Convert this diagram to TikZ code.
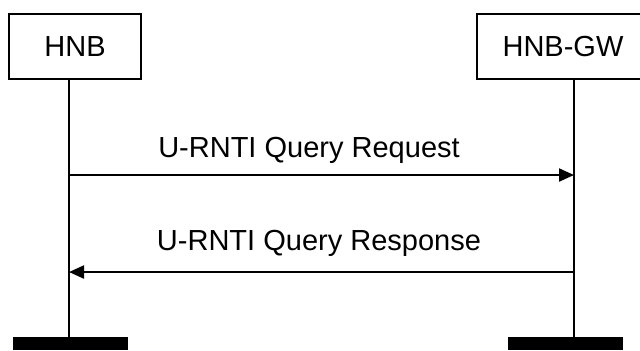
\documentclass[tikz,border=0pt]{standalone}
\usepackage{fontspec}
\setmainfont{Liberation Sans}
\usetikzlibrary{arrows.meta}
\begin{document}
\begin{tikzpicture}[
    x=0.01cm, y=-0.01cm,
    entity/.style={draw=black, line width=0.45pt, minimum width=1.32cm, minimum height=0.65cm, inner sep=0pt, font=\fontsize{8.25}{10}\selectfont},
    endbar/.style={fill=black, minimum width=1.15cm, minimum height=0.13cm, inner sep=0pt},
    lifeline/.style={line width=0.35pt},
    message/.style={line width=0.6pt, -{Triangle[length=0.15cm, width=0.13cm]}},
    msglabel/.style={anchor=base, inner sep=0pt, font=\fontsize{8.25}{10}\selectfont}
]
\clip (0,0) rectangle (640,350);

\node[entity] (hnb) at (75,46.5) {HNB};
\node[entity, minimum width=1.72cm] (hnbgw) at (563,46.5) {HNB-GW};

\node[endbar] (hnbbar) at (70.5,343.5) {};
\node[endbar] (hnbgwbar) at (565.5,343.5) {};

% lifelines
\coordinate (hnb-top) at (69,79);
\coordinate (hnb-bot) at (69,337);
\coordinate (hnbgw-top) at (574,79);
\coordinate (hnbgw-bot) at (574,337);
\draw[lifeline] (hnb-top) -- (hnb-bot);
\draw[lifeline] (hnbgw-top) -- (hnbgw-bot);

% messages
\coordinate (req-from) at (69,175);
\coordinate (req-to) at (574,175);
\coordinate (rsp-from) at (574,272);
\coordinate (rsp-to) at (69,272);
\draw[message] (req-from) -- (req-to);
\draw[message] (rsp-from) -- (rsp-to);

\node[msglabel] (reqlabel) at (309,157) {U-RNTI Query Request};
\node[msglabel] (rsplabel) at (319,250) {U-RNTI Query Response};

\end{tikzpicture}
\end{document}
